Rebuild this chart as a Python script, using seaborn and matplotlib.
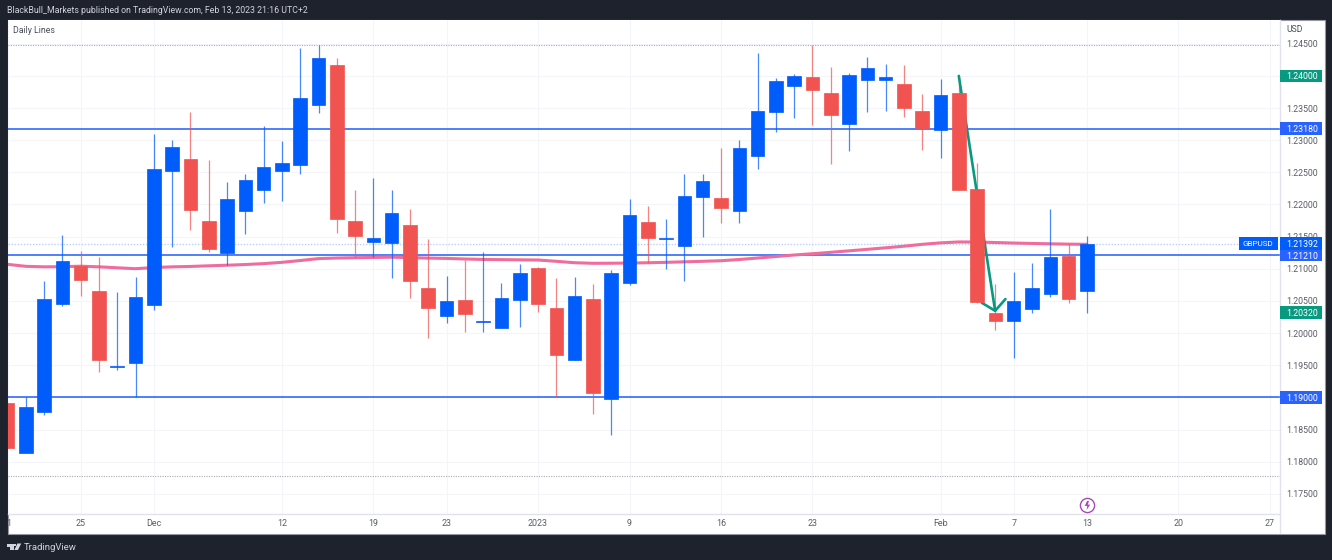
import numpy as np
import pandas as pd
import matplotlib
matplotlib.use("Agg")
import matplotlib.pyplot as plt
from matplotlib.patches import Rectangle, Polygon, Circle
from matplotlib.path import Path
from matplotlib.transforms import blended_transform_factory, Bbox
import seaborn as sns

W, H = 1332, 560

opens = [1.18912,1.18135,1.18777,1.20452,1.21043,1.20654,1.19480,1.19530,1.20432,1.22525,1.22712,1.21743,1.21250,1.21903,1.22220,1.22525,
         1.22618,1.23542,1.24164,1.21743,1.21421,1.21405,1.21680,1.20701,1.20265,1.20509,1.20165,1.20079,1.20514,1.21016,1.20394,1.19576,
         1.20530,1.18979,1.20774,1.21722,1.21468,1.21349,1.22121,1.22100,1.21894,1.22754,1.23433,1.23847,1.23977,1.23738,1.23251,1.23940,
         1.23931,1.23878,1.23449,1.23153,1.23729,1.22240,1.20312,1.20187,1.20369,1.20603,1.21198,1.20659]
highs = [1.18912,1.19000,1.20805,1.21525,1.21276,1.21183,1.20634,1.20876,1.23096,1.22998,1.23438,1.22691,1.22345,1.22469,1.23220,1.22987,
         1.24433,1.24475,1.24273,1.22225,1.22416,1.22225,1.21925,1.21467,1.20892,1.21136,1.21256,1.20774,1.21074,1.21032,1.20852,1.20876,
         1.20763,1.20981,1.22089,1.21976,1.21774,1.22469,1.22474,1.22883,1.22998,1.24351,1.23962,1.24033,1.24475,1.24138,1.24040,1.24293,
         1.24184,1.24169,1.23713,1.23946,1.23998,1.22640,1.20763,1.20949,1.21085,1.21929,1.21380,1.21514]
lows = [1.18212,1.18135,1.18725,1.20421,1.20581,1.19399,1.19425,1.19000,1.20359,1.21343,1.21603,1.21265,1.21058,1.21540,1.22027,1.22049,
        1.22478,1.23418,1.21561,1.21187,1.21187,1.20852,1.20550,1.19928,1.20161,1.20021,1.20021,1.20079,1.20089,1.20332,1.19010,1.19576,
        1.18736,1.18410,1.20752,1.21085,1.21001,1.20809,1.21498,1.21716,1.21707,1.22551,1.23127,1.23349,1.23240,1.22624,1.22831,1.23442,
        1.23453,1.23365,1.22842,1.22727,1.22220,1.20472,1.20047,1.19607,1.20307,1.20565,1.20463,1.20307]
closes = [1.18212,1.18845,1.20530,1.21121,1.20825,1.19576,1.19490,1.20565,1.22547,1.22893,1.21914,1.21303,1.22089,1.22385,1.22587,1.22645,
          1.23660,1.24273,1.21769,1.21509,1.21483,1.21862,1.20809,1.20390,1.20498,1.20296,1.20180,1.20545,1.20929,1.20447,1.19654,1.20576,
          1.19063,1.20939,1.21841,1.21483,1.21480,1.22127,1.22360,1.21940,1.22873,1.23449,1.23915,1.24002,1.23780,1.23396,1.24013,1.24127,
          1.23977,1.23495,1.23189,1.23707,1.22220,1.20488,1.20192,1.20494,1.20696,1.21178,1.20534,1.21392]
ma_line = [1.21069,1.21038,1.21030,1.21032,1.21040,1.21030,1.21015,1.21001,1.21019,1.21030,1.21036,1.21046,1.21055,1.21066,1.21080,1.21100,
           1.21128,1.21158,1.21167,1.21172,1.21176,1.21180,1.21173,1.21166,1.21161,1.21152,1.21145,1.21142,1.21139,1.21136,1.21116,1.21094,
           1.21085,1.21086,1.21089,1.21094,1.21100,1.21108,1.21116,1.21125,1.21144,1.21167,1.21190,1.21214,1.21234,1.21256,1.21279,1.21302,
           1.21326,1.21351,1.21380,1.21403,1.21417,1.21416,1.21408,1.21400,1.21394,1.21388,1.21383,1.21380]

price_ticks = [1.245,1.24,1.235,1.23,1.225,1.22,1.215,1.21,1.205,1.20,1.195,1.19,1.185,1.18,1.175]
date_pos = [0,4,8,15,20,24,29,34,39,44,51,55,59,64,69]
date_labels = ["21","25","Dec","12","19","23","2023","9","16","23","Feb","7","13","20","27"]
support_levels = [1.2318,1.2121,1.19]
dotted_levels = [1.24475,1.17777]
last_close = 1.21392
trend_start = (52,1.24)
trend_end = (54,1.2032)

BLUE, RED = "#005CFA", "#F05350"
LINE_BLUE, GREEN = "#2962FF", "#089981"
DARK = "#1E222D"

df = pd.DataFrame({"i": np.arange(len(opens)), "o": opens, "h": highs, "l": lows, "c": closes, "ma": ma_line})
df["up"] = df.c >= df.o

sns.set_theme(style="white")
plt.rcParams["font.family"] = ["Roboto", "DejaVu Sans"]

fig = plt.figure(figsize=(W/100, H/100), dpi=100, facecolor=DARK)
def fx(x): return x / W
def fy(y): return 1 - y / H

L, R, T, B = 7.5, 1279.5, 20, 514
fig.add_artist(Rectangle((fx(L), fy(533.5)), fx(1325-L), (533.5-T)/H, transform=fig.transFigure,
                         fc="white", ec="#9598A1", lw=0.8, zorder=-1))
ax = fig.add_axes([fx(L), fy(B), fx(R-L), (B-T)/H], facecolor="white")

# background
ax.set_axisbelow(True)
ax.grid(True, color="#F4F5F8", lw=0.85)
for lvl in support_levels:
    ax.axhline(lvl, color=LINE_BLUE, lw=1.15, zorder=1.5)
for lvl in dotted_levels:
    ax.axhline(lvl, color="#A8ABB3", lw=0.8, ls=(0, (1, 1.2)), zorder=1.2)
ax.axhline(last_close, color="#BBD0FA", lw=1.0, ls=(0, (1, 1.2)), zorder=1.2)

sns.lineplot(data=df, x="i", y="ma", ax=ax, color="#EF6C9C", lw=2.2, zorder=1.8, legend=False, errorbar=None)

# trend arrow
ax.annotate("", xy=trend_end, xytext=trend_start, zorder=3.2,
            arrowprops=dict(arrowstyle="->,head_length=0.6,head_width=0.72", color=GREEN, lw=1.9,
                            shrinkA=0, shrinkB=0))

# candles
for up, col in ((True, BLUE), (False, RED)):
    g = df[df.up == up]
    ax.vlines(g.i, g.l, g.h, color=col, lw=0.9, alpha=0.72, zorder=2.5)
    ax.bar(g.i, (g.c - g.o).abs(), bottom=g[["o", "c"]].min(axis=1), width=0.74,
           color=col, edgecolor=col, lw=0.5, zorder=3 if up else 3.5)

ax.set_xlim(0.04, 69.53)
ax.set_ylim(1.17186, 1.24869)
ax.set_xticks(date_pos)
ax.set_xticklabels(date_labels)
ax.set_yticks(price_ticks)
ax.set_yticklabels([f"{p:.5f}" for p in price_ticks])
ax.yaxis.tick_right()
ax.tick_params(axis="y", length=0, pad=5, labelsize=6.3, labelcolor="#5A5D66")
ax.tick_params(axis="x", length=0, pad=3.8, labelsize=6.4, labelcolor="#5A5D66")
ax.set_xlabel(""); ax.set_ylabel("")
for lab, pos in zip(ax.get_yticklabels(), price_ticks):
    lab.set_ha("left")
for s in ("top", "left"):
    ax.spines[s].set_visible(False)
for s in ("right", "bottom"):
    ax.spines[s].set_color("#E0E3EB"); ax.spines[s].set_linewidth(1.0)
fig.add_artist(plt.Line2D([fx(R), fx(R)], [fy(B), fy(533)], color="#E0E3EB", lw=1.0))

# first date label cut by the pane edge
first = ax.get_xticklabels()[0]
first.set_clip_on(True)
first.set_clip_box(Bbox.from_extents(L, 0, W, H))

# price tags on the scale
trans = blended_transform_factory(ax.transAxes, ax.transData)
px_price = (1.24869 - 1.17186) / (B - T)
px_x = 1 / (R - L)
def tag(level, text, col, x0=0.0, width=42.5, tx=7.2, size=6.3):
    ax.add_patch(Rectangle((1 + x0*px_x, level - 6.2*px_price), width*px_x, 12.4*px_price, transform=trans,
                           fc=col, ec="none", clip_on=False, zorder=6))
    ax.text(1 + (x0 + tx)*px_x, level, text, transform=trans, ha="left", va="center_baseline",
            color="white", fontsize=size, clip_on=False, zorder=7)
tag(1.2400, "1.24000", GREEN)
tag(1.2318, "1.23180", LINE_BLUE)
tag(1.2121, "1.21210", LINE_BLUE)
tag(last_close, "1.21392", BLUE)
tag(last_close, "GBPUSD", BLUE, x0=-40.5, width=39, tx=3.5, size=5.9)
tag(1.2032, "1.20320", GREEN)
tag(1.1900, "1.19000", LINE_BLUE)

# alert marker
bolt = Path([(-0.1,1),(-0.6,-0.1),(-0.05,-0.1),(-0.2,-1),(0.6,0.2),(0.05,0.2),(0.35,1),(-0.1,1)], closed=True)
ax.plot([59],[1.17321], marker="o", ms=10.2, mfc="white", mec="#AB47BC", mew=1.0, zorder=4, clip_on=False)
ax.plot([59],[1.17321], marker=bolt, ms=6.5, mfc="#AB47BC", mec="none", zorder=5, clip_on=False)

# texts
fig.text(fx(7.3), fy(10.5), "BlackBull_Markets published on TradingView.com, Feb 13, 2023 21:16 UTC+2",
         color="#D1D4DC", fontsize=6.3, va="center", ha="left")
fig.text(fx(13), fy(30.5), "Daily Lines", color="#4A4D57", fontsize=6.3, va="center", ha="left")
fig.text(fx(1286.5), fy(29.5), "USD", color="#4A4D57", fontsize=6.2, va="center", ha="left")
fig.text(fx(24), fy(547), "TradingView", color="#D1D4DC", fontsize=6.8, va="center", ha="left")

# footer logo
def P(pts): return [(fx(x), fy(y)) for x, y in pts]
logo = "#D1D4DC"
fig.add_artist(Polygon(P([(7.3,543.5),(13.6,543.5),(13.6,550),(10.4,550),(10.4,546.6),(7.3,546.6)]), fc=logo, ec="none", transform=fig.transFigure))
fig.add_artist(Polygon(P([(17.4,543.5),(21.2,543.5),(18,550),(14.4,550)]), fc=logo, ec="none", transform=fig.transFigure))
fig.add_artist(Polygon(P([(14.2,543.6),(16.4,543.6),(16.4,546),(14.2,546)]), fc=logo, ec="none", transform=fig.transFigure))

fig.savefig("out.png", dpi=100, facecolor=DARK)
